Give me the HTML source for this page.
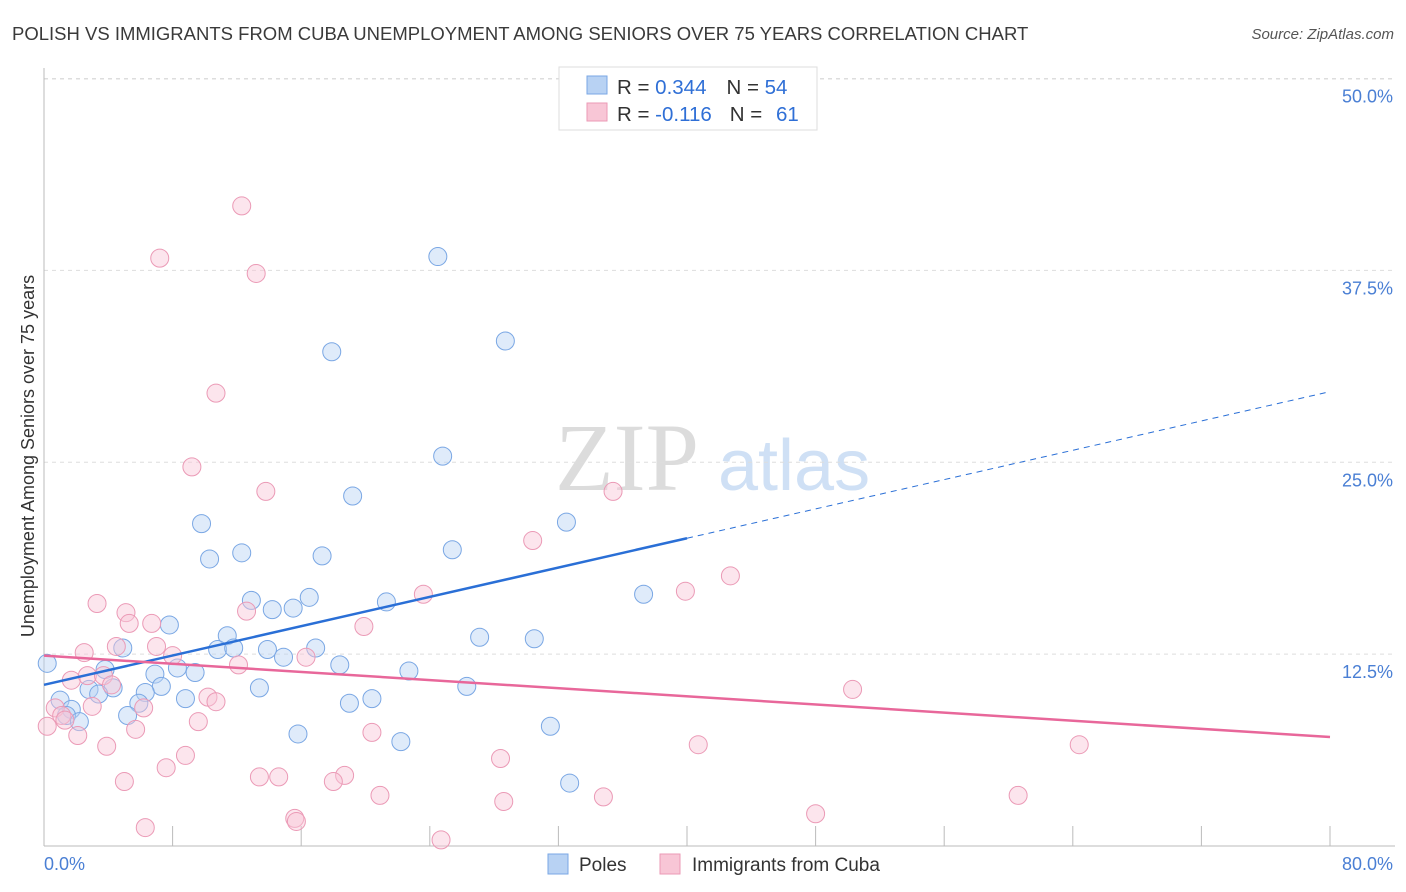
<!DOCTYPE html>
<html><head><meta charset="utf-8"><style>
body{margin:0;background:#fff;font-family:"Liberation Sans",sans-serif;}
#wrap{position:relative;width:1406px;height:892px;overflow:hidden;}
</style></head><body>
<div id="wrap">
<svg id="chart" width="1406" height="892" xmlns="http://www.w3.org/2000/svg">
<text x="12" y="40" font-size="18.5" fill="#3a3a3a">POLISH VS IMMIGRANTS FROM CUBA UNEMPLOYMENT AMONG SENIORS OVER 75 YEARS CORRELATION CHART</text>
<text x="1394" y="39" font-size="15" fill="#555" font-style="italic" text-anchor="end">Source: ZipAtlas.com</text>
<text x="555" y="490" font-size="96" fill="#dcdcdc" font-family="Liberation Serif,serif">ZIP</text>
<text x="718" y="490" font-size="72" fill="#cfe0f5">atlas</text>
<g id="grid"></g><g id="axes"></g><g id="marks"></g>
<text transform="translate(34,456) rotate(-90)" font-size="18" fill="#333" text-anchor="middle">Unemployment Among Seniors over 75 years</text>
<g>
<rect x="559" y="67" width="258" height="63" fill="#fff" stroke="#ddd"/>
<rect x="587" y="76" width="20" height="18" fill="#b8d2f3" stroke="#7aa7e4"/>
<rect x="587" y="103" width="20" height="18" fill="#f8c6d6" stroke="#eb9ab6"/>
<text x="617" y="94" font-size="20.5" fill="#333">R = <tspan fill="#2f6fd6">0.344</tspan><tspan dx="20">N = </tspan><tspan fill="#2f6fd6">54</tspan></text>
<text x="617" y="121" font-size="20.5" fill="#333">R = <tspan fill="#2f6fd6">-0.116</tspan><tspan dx="18">N = </tspan><tspan fill="#2f6fd6" dx="8">61</tspan></text>
</g>
<g>
<rect x="548" y="854" width="20" height="20" fill="#b8d2f3" stroke="#7aa7e4"/>
<text x="579" y="871" font-size="19" fill="#333">Poles</text>
<rect x="660" y="854" width="20" height="20" fill="#f8c6d6" stroke="#eb9ab6"/>
<text x="692" y="871" font-size="19" fill="#333">Immigrants from Cuba</text>
</g>
</svg>
</div>
<script>
const polesX=[24.5,28.7,17.9,24.8,19.2,9.8,32.5,12.3,10.3,17.3,25.4,37.3,16.5,12.9,14.2,15.5,21.3,7.8,11.4,27.1,30.5,4.9,10.8,11.8,13.9,16.9,14.9,18.4,0.2,3.8,8.3,9.4,6.9,22.7,7.3,4.3,2.8,3.4,13.4,26.3,6.3,8.8,20.4,19.0,1.0,5.9,1.7,5.2,1.4,2.2,31.5,15.8,22.2,32.7];
const polesY=[38.4,32.9,32.2,25.4,22.8,21.0,21.1,19.1,18.7,18.9,19.3,16.4,16.2,16.0,15.4,15.5,15.9,14.4,13.7,13.6,13.5,12.9,12.8,12.9,12.8,12.9,12.3,11.8,11.9,11.5,11.6,11.3,11.2,11.4,10.4,10.3,10.2,9.9,10.3,10.4,10.0,9.6,9.6,9.3,9.5,9.3,8.9,8.5,8.5,8.1,7.8,7.3,6.8,4.1];
const cubaX=[12.3,7.2,13.2,10.7,9.2,13.8,35.4,30.4,42.7,39.9,3.3,5.1,12.6,23.6,5.3,6.7,19.9,4.5,7.0,2.5,8.0,16.3,12.1,1.7,2.7,3.7,4.2,10.2,10.7,50.3,0.7,3.0,6.2,1.1,0.2,2.1,5.7,9.6,20.4,3.9,8.8,40.7,64.4,28.4,7.6,13.4,14.6,18.7,18.0,5.0,20.9,34.8,28.6,60.6,15.6,15.7,48.0,6.3,24.7,1.3];
const cubaY=[41.7,38.3,37.3,29.5,24.7,23.1,23.1,19.9,17.6,16.6,15.8,15.2,15.3,16.4,14.5,14.5,14.3,13.0,13.0,12.6,12.4,12.3,11.8,10.8,11.1,11.1,10.5,9.7,9.4,10.2,9.0,9.1,9.0,8.5,7.8,7.2,7.6,8.1,7.4,6.5,5.9,6.6,6.6,5.7,5.1,4.5,4.5,4.6,4.2,4.2,3.3,3.2,2.9,3.3,1.8,1.6,2.1,1.2,0.4,8.2];
const polesTrend=[10.5,29.6];
const cubaTrend=[12.4,7.1];
const yTicks=[12.5,25,37.5,50];
const yTickLabels=["12.5%","25.0%","37.5%","50.0%"];
const xTicks=[0,8,16,24,32,40,48,56,64,72,80];

const NS="http://www.w3.org/2000/svg";
const sx=v=>44+v/80*1286;
const sy=v=>846-v*15.35;
function mk(tag,attrs,parent){const e=document.createElementNS(NS,tag);for(const k in attrs)e.setAttribute(k,attrs[k]);document.getElementById(parent).appendChild(e);return e;}

yTicks.forEach((t,i)=>{
  const l=mk('line',{x1:44,x2:1395,y1:sy(t),y2:sy(t),stroke:'#ddd','stroke-dasharray':'4,4'},'grid');
  
  
  const tx=mk('text',{x:1393,y:sy(t)+24,'font-size':18,fill:'#4a7fd4','text-anchor':'end'},'axes');
  tx.textContent=yTickLabels[i];
  
  
});
let g=mk('line',{x1:44,x2:1395,y1:79,y2:79,stroke:'#ddd','stroke-dasharray':'4,4'},'grid');


let a=mk('line',{x1:44,x2:44,y1:68,y2:846,stroke:'#bbb'},'axes');


a=mk('line',{x1:44,x2:1395,y1:846,y2:846,stroke:'#bbb'},'axes');


xTicks.forEach(t=>{
  const l=mk('line',{x1:sx(t),x2:sx(t),y1:826,y2:846,stroke:'#bbb'},'axes');
  
  
});
let t0=mk('text',{x:44,y:870,'font-size':18,fill:'#4a7fd4'},'axes');t0.textContent="0.0%";


let t1=mk('text',{x:1393,y:870,'font-size':18,fill:'#4a7fd4','text-anchor':'end'},'axes');t1.textContent="80.0%";



function dots(X,Y,fill,stroke,name){
  X.forEach((x,i)=>{
    const c=mk('circle',{cx:sx(x),cy:sy(Y[i]),r:9,fill:fill,'fill-opacity':0.45,stroke:stroke,'stroke-width':1},'marks');
    
    
  });
}
dots(polesX,polesY,'#b8d2f3','#7aa7e4','poles-point');
dots(cubaX,cubaY,'#f8c6d6','#eb9ab6','cuba-point');

const pMid=polesTrend[0]+(polesTrend[1]-polesTrend[0])*0.5;
let ln=mk('line',{x1:sx(0),y1:sy(polesTrend[0]),x2:sx(40),y2:sy(pMid),stroke:'#2a6fd6','stroke-width':2.5},'marks');


ln=mk('line',{x1:sx(40),y1:sy(pMid),x2:sx(80),y2:sy(polesTrend[1]),stroke:'#2a6fd6','stroke-width':1,'stroke-dasharray':'6,5'},'marks');


ln=mk('line',{x1:sx(0),y1:sy(cubaTrend[0]),x2:sx(80),y2:sy(cubaTrend[1]),stroke:'#e8679a','stroke-width':2.5},'marks');


</script>
</body></html>
